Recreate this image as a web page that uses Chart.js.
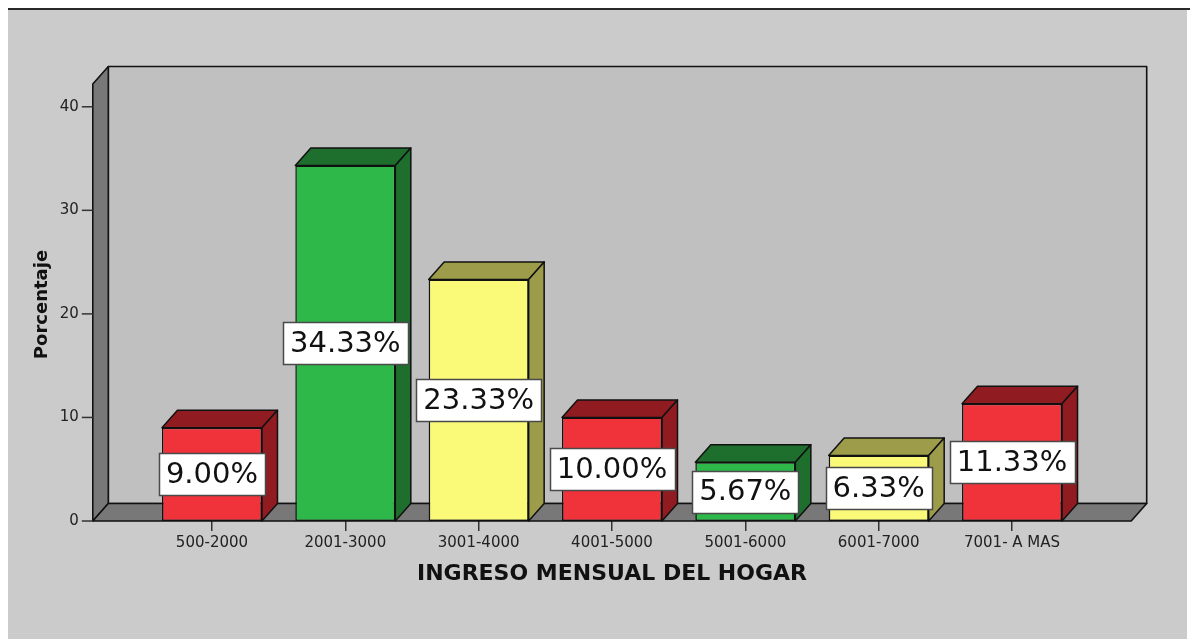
<!DOCTYPE html>
<html>
<head>
<meta charset="utf-8">
<script src="https://cdn.jsdelivr.net/npm/chart.js@4.4.1/dist/chart.umd.min.js"></script>
<style>
  html, body { margin: 0; padding: 0; background: #ffffff; }
  canvas { display: block; }
</style>
</head>
<body>
<canvas id="c" width="1190" height="639"></canvas>
<script>
// ---- data ----
const categories = ['500-2000', '2001-3000', '3001-4000', '4001-5000', '5001-6000', '6001-7000', '7001- A MAS'];
const percentages = [9.00, 34.33, 23.33, 10.00, 5.67, 6.33, 11.33];
const yTicks = [0, 10, 20, 30, 40];
const xTitle = 'INGRESO MENSUAL DEL HOGAR';
const yTitle = 'Porcentaje';

// ---- styles ----
const frontColors = ['#f0323a', '#2eb84a', '#fafa78', '#f0323a', '#2eb84a', '#fafa78', '#f0323a'];
const darkColors  = ['#901c21', '#1e6e2d', '#9c9c4a', '#901c21', '#1e6e2d', '#9c9c4a', '#901c21'];
const DX = 15.5, DY = -17.5;      // depth offset of 3D effect
const SIDE = 52.5;                // floor/wall extension beyond category span

const bg3d = {
  id: 'bg3d',
  beforeDraw(chart) {
    const ctx = chart.ctx;
    ctx.save();
    ctx.fillStyle = '#ffffff';
    ctx.fillRect(0, 0, chart.width, chart.height);
    ctx.fillStyle = '#cbcbcb';
    ctx.fillRect(8, 10, 1179, chart.height - 10);
    ctx.fillStyle = '#2a2a2a';
    ctx.fillRect(8, 8, 1182, 2);
    ctx.restore();
  },
  beforeDatasetsDraw(chart) {
    const ctx = chart.ctx;
    const ca = chart.chartArea;
    const y = chart.scales.y;
    const L = ca.left - SIDE, R = ca.right + SIDE;
    const T = ca.top, B = y.getPixelForValue(0);
    ctx.save();
    ctx.lineJoin = 'round';
    ctx.strokeStyle = '#111';
    ctx.lineWidth = 1.6;
    // back wall
    ctx.fillStyle = '#c0c0c0';
    ctx.beginPath();
    ctx.rect(L + DX, T + DY, R - L, B - T);
    ctx.fill(); ctx.stroke();
    // left wall
    ctx.fillStyle = '#787878';
    ctx.beginPath();
    ctx.moveTo(L, B); ctx.lineTo(L, T); ctx.lineTo(L + DX, T + DY); ctx.lineTo(L + DX, B + DY); ctx.closePath();
    ctx.fill(); ctx.stroke();
    // floor
    ctx.beginPath();
    ctx.moveTo(L, B); ctx.lineTo(R, B); ctx.lineTo(R + DX, B + DY); ctx.lineTo(L + DX, B + DY); ctx.closePath();
    ctx.fill(); ctx.stroke();

    // y axis ticks and labels
    ctx.strokeStyle = '#333';
    ctx.lineWidth = 1.5;
    ctx.fillStyle = '#222';
    ctx.font = '15px "DejaVu Sans"';
    ctx.textAlign = 'right';
    ctx.textBaseline = 'middle';
    yTicks.forEach(v => {
      const py = y.getPixelForValue(v);
      ctx.beginPath(); ctx.moveTo(L - 11, py); ctx.lineTo(L, py); ctx.stroke();
      ctx.fillText(String(v), L - 14, py);
    });

    // y title
    ctx.save();
    ctx.translate(42, (T + B) / 2 + 2);
    ctx.rotate(-Math.PI / 2);
    ctx.font = 'bold 18px "DejaVu Sans"';
    ctx.textAlign = 'center';
    ctx.fillStyle = '#111';
    ctx.fillText(yTitle, 0, 0);
    ctx.restore();

    // 3D faces of bars
    const meta = chart.getDatasetMeta(0);
    meta.data.forEach((el, i) => {
      const p = el.getProps(['x', 'y', 'base', 'width'], true);
      const x1 = p.x - p.width / 2, x2 = p.x + p.width / 2;
      ctx.fillStyle = darkColors[i];
      ctx.strokeStyle = '#111';
      ctx.lineWidth = 1.5;
      // top
      ctx.beginPath();
      ctx.moveTo(x1, p.y); ctx.lineTo(x1 + DX, p.y + DY); ctx.lineTo(x2 + DX, p.y + DY); ctx.lineTo(x2, p.y); ctx.closePath();
      ctx.fill(); ctx.stroke();
      // side
      ctx.beginPath();
      ctx.moveTo(x2, p.y); ctx.lineTo(x2 + DX, p.y + DY); ctx.lineTo(x2 + DX, p.base + DY); ctx.lineTo(x2, p.base); ctx.closePath();
      ctx.fill(); ctx.stroke();
    });
    ctx.restore();
  },
  afterDatasetsDraw(chart) {
    const ctx = chart.ctx;
    const meta = chart.getDatasetMeta(0);
    ctx.save();
    ctx.font = '29px "DejaVu Sans"';
    ctx.textAlign = 'center';
    ctx.textBaseline = 'middle';
    meta.data.forEach((el, i) => {
      const p = el.getProps(['x', 'y', 'base'], true);
      const txt = percentages[i].toFixed(2) + '%';
      const cy = (p.y + p.base) / 2;
      const w = ctx.measureText(txt).width + 14;
      const h = 42;
      ctx.fillStyle = '#ffffff';
      ctx.strokeStyle = '#4a4a4a';
      ctx.lineWidth = 1.5;
      ctx.beginPath();
      ctx.rect(Math.round(p.x - w / 2) + 0.5, Math.round(cy - h / 2) + 0.5, Math.round(w), h);
      ctx.fill(); ctx.stroke();
      ctx.fillStyle = '#111';
      ctx.fillText(txt, p.x, cy + 1);
    });
    ctx.restore();
  }
};

new Chart(document.getElementById('c'), {
  type: 'bar',
  data: {
    labels: categories,
    datasets: [{
      data: percentages,
      backgroundColor: frontColors,
      borderColor: '#111',
      borderWidth: 1.5,
      borderSkipped: false,
      categoryPercentage: 1.0,
      barPercentage: 0.75
    }]
  },
  options: {
    responsive: false,
    animation: false,
    devicePixelRatio: 1,
    layout: { padding: { left: 145.3, right: 111.3, top: 84, bottom: 0 } },
    plugins: { legend: { display: false }, tooltip: { enabled: false } },
    scales: {
      x: {
        offset: true,
        grid: { display: true, drawOnChartArea: false, drawTicks: true, tickLength: 10, color: '#333', lineWidth: 1.5, offset: false },
        border: { display: false },
        ticks: { color: '#222', font: { family: 'DejaVu Sans', size: 15 }, padding: 3, maxRotation: 0, autoSkip: false },
        title: { display: true, text: xTitle, color: '#111', font: { family: 'DejaVu Sans', size: 22, weight: 'bold' }, padding: { top: 4, bottom: 52 } },
        afterFit(scale) { scale.height = 118; }
      },
      y: {
        display: false,
        min: 0,
        max: 42.2
      }
    }
  },
  plugins: [bg3d]
});
</script>
</body>
</html>
